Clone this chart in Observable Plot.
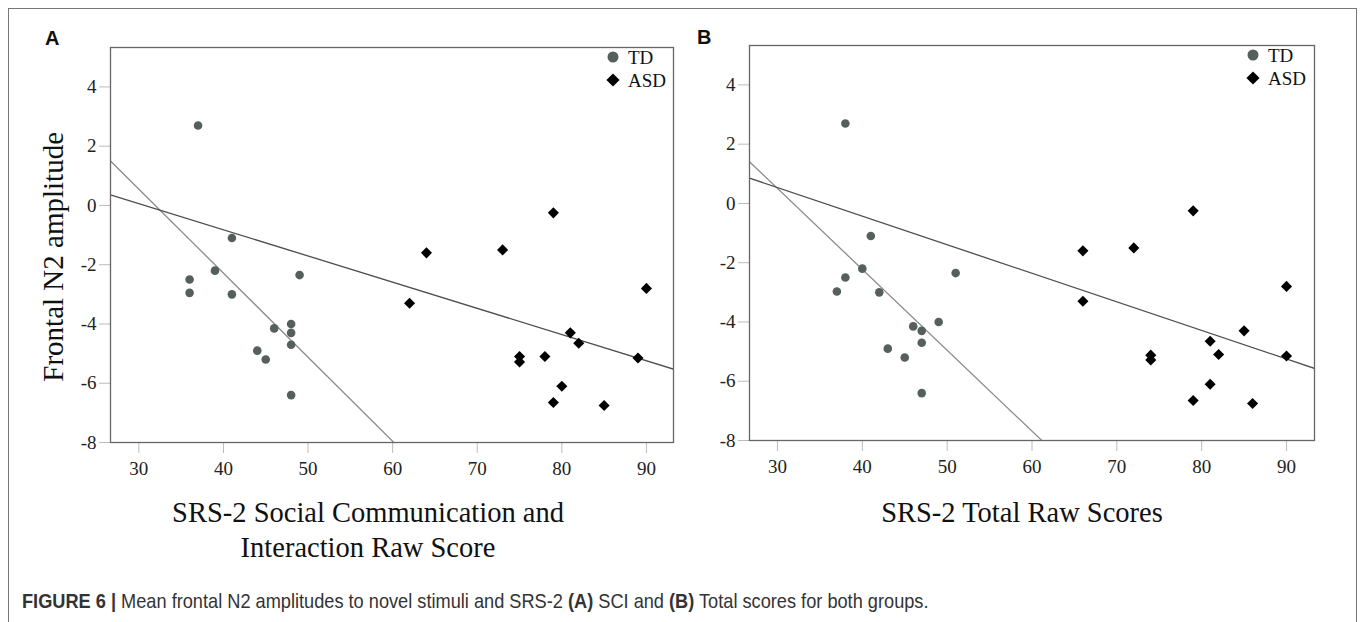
<!DOCTYPE html>
<html><head><meta charset="utf-8">
<script src="https://cdn.jsdelivr.net/npm/d3@7"></script>
<script src="https://cdn.jsdelivr.net/npm/@observablehq/plot@0.6"></script>
<style>
body{margin:0;background:#fff;}
#fig{position:relative;width:1360px;height:622px;overflow:hidden;background:#fff;}
#frame{position:absolute;left:8px;top:8px;width:1347px;height:700px;border:1.5px solid #777;}
.panel{position:absolute;top:0;}
#overlay{position:absolute;left:0;top:0;}
</style></head><body>
<div id="fig"><div id="frame"></div><div id="pa" class="panel" style="left:0px"></div><div id="pb" class="panel" style="left:680px"></div><svg id="overlay" width="1360" height="622"></svg></div>
<script>
// ---- data ----
const groups = ["TD", "ASD"];
const yTicks = [4, 2, 0, -2, -4, -6, -8];
const xTicks = [30, 40, 50, 60, 70, 80, 90];
// Panel A: SRS-2 Social Communication and Interaction raw score
const tdSciX  = [37, 41, 39, 36, 36, 41, 49, 46, 48, 48, 48, 44, 45, 48];
const tdSciY  = [2.7, -1.1, -2.2, -2.5, -2.95, -3.0, -2.35, -4.15, -4.0, -4.3, -4.7, -4.9, -5.2, -6.4];
const asdSciX = [79, 64, 73, 62, 90, 81, 82, 75, 75, 78, 89, 80, 79, 85];
const asdSciY = [-0.25, -1.6, -1.5, -3.3, -2.8, -4.3, -4.65, -5.1, -5.28, -5.1, -5.15, -6.1, -6.65, -6.75];
// Panel B: SRS-2 Total raw scores
const tdTotX  = [38, 41, 40, 38, 37, 42, 51, 49, 46, 47, 47, 43, 45, 47];
const tdTotY  = [2.7, -1.1, -2.2, -2.5, -2.97, -3.0, -2.35, -4.0, -4.15, -4.3, -4.7, -4.9, -5.2, -6.4];
const asdTotX = [79, 66, 72, 66, 90, 85, 81, 82, 74, 74, 90, 81, 79, 86];
const asdTotY = [-0.25, -1.6, -1.5, -3.3, -2.8, -4.3, -4.65, -5.1, -5.12, -5.28, -5.15, -6.1, -6.65, -6.75];

const serif = "'Liberation Serif','Times New Roman',serif";
const tdColor = "#56605b", asdColor = "#000";

function fit(xs, ys) {
  const mx = d3.mean(xs), my = d3.mean(ys);
  let sxy = 0, sxx = 0;
  xs.forEach((x, i) => { sxy += (x - mx) * (ys[i] - my); sxx += (x - mx) ** 2; });
  const b = sxy / sxx;
  return x => my + b * (x - mx);
}
const pts = (xs, ys) => xs.map((x, i) => ({x, y: ys[i]}));

function panel({tdX, tdY, asdX, asdY, xDomain, width, height, mL, mR, mT, mB}) {
  const ftd = fit(tdX, tdY), fasd = fit(asdX, asdY);
  const tdLine = xDomain.map(x => ({x, y: ftd(x)}));
  const asdLine = xDomain.map(x => ({x, y: fasd(x)}));
  const svg = Plot.plot({
    width, height, marginLeft: mL, marginRight: mR, marginTop: mT, marginBottom: mB,
    x: {domain: xDomain},
    y: {domain: [-8, 5.33]},
    style: {fontFamily: serif, fontSize: "19px", color: "#222", background: "transparent", overflow: "visible"},
    marks: [
      Plot.axisY(yTicks, {tickSize: 11, tickPadding: 3, stroke: "#bbb", fill: "#222", tickFormat: d => `${d}`, label: null}),
      Plot.axisX(xTicks, {tickSize: 11, tickPadding: 8, stroke: "#bbb", fill: "#222", tickFormat: d => `${d}`, label: null}),
      Plot.line(tdLine, {x: "x", y: "y", stroke: "#8c8c8c", strokeWidth: 1.3, clip: true}),
      Plot.line(asdLine, {x: "x", y: "y", stroke: "#4d4d4d", strokeWidth: 1.3, clip: true}),
      Plot.dot(pts(tdX, tdY), {x: "x", y: "y", r: 4.3, fill: tdColor, symbol: "circle"}),
      Plot.dot(pts(asdX, asdY), {x: "x", y: "y", r: 5, fill: asdColor, symbol: "diamond2"}),
      Plot.frame({stroke: "#666", strokeWidth: 1.3})
    ]
  });
  d3.select(svg).selectAll("text").style("font-family", serif).style("font-size", "19px");
  d3.select(svg).selectAll("g[aria-label]").filter(function() {
    return /tick label/.test(this.getAttribute("aria-label"));
  }).style("font-family", serif).style("font-size", "19px");
  return svg;
}

document.getElementById("pa").append(panel({
  tdX: tdSciX, tdY: tdSciY, asdX: asdSciX, asdY: asdSciY,
  xDomain: [26.65, 93.2], width: 690, height: 500, mL: 110, mR: 17, mT: 47, mB: 58
}));
document.getElementById("pb").append(panel({
  tdX: tdTotX, tdY: tdTotY, asdX: asdTotX, asdY: asdTotY,
  xDomain: [26.7, 93.3], width: 680, height: 500, mL: 69, mR: 46, mT: 45, mB: 60
}));

// ---- overlay texts ----
const ov = d3.select("#overlay");
function txt(x, y, s, o = {}) {
  return ov.append("text").attr("x", x).attr("y", y).text(s)
    .attr("font-family", o.family || serif).attr("font-size", o.size || 19)
    .attr("font-weight", o.weight || "normal").attr("fill", o.fill || "#111")
    .attr("text-anchor", o.anchor || "start");
}
// panel letters
txt(45, 45, "A", {family: "'Liberation Sans',Arial,sans-serif", size: 20, weight: "bold"});
txt(697, 44, "B", {family: "'Liberation Sans',Arial,sans-serif", size: 20, weight: "bold"});
// y title
ov.append("text").attr("transform", "translate(63,132) rotate(-90)").attr("text-anchor", "end")
  .attr("font-family", serif).attr("font-size", 29).attr("fill", "#111").text("Frontal N2 amplitude");
// x titles
txt(368, 522, "SRS-2 Social Communication and", {size: 28.5, anchor: "middle"});
txt(368, 557, "Interaction Raw Score", {size: 28.5, anchor: "middle"});
txt(1022, 522, "SRS-2 Total Raw Scores", {size: 28.5, anchor: "middle"});
// legends
function legend(x, y0) {
  const sym = d3.symbol();
  groups.forEach((g, i) => {
    const y = y0 + i * 23;
    ov.append("path").attr("transform", `translate(${x},${y})`)
      .attr("d", sym.type(i === 0 ? d3.symbolCircle : d3.symbolDiamond2).size(i === 0 ? 95 : 110)())
      .attr("fill", i === 0 ? tdColor : asdColor);
    txt(x + 15, y + 6.5, g, {size: 19});
  });
}
legend(613, 57);
legend(1253, 55);
// caption (condensed sans, scaled horizontally)
const cap = ov.append("text").attr("x", 0).attr("y", 0)
  .attr("transform", "translate(22,608) scale(0.91,1)")
  .attr("font-family", "'Liberation Sans Narrow','Liberation Sans',Arial,sans-serif")
  .attr("font-size", 20).attr("fill", "#333");
cap.append("tspan").attr("font-weight", "bold").text("FIGURE 6 | ");
cap.append("tspan").text("Mean frontal N2 amplitudes to novel stimuli and SRS-2 ");
cap.append("tspan").attr("font-weight", "bold").text("(A)");
cap.append("tspan").text(" SCI and ");
cap.append("tspan").attr("font-weight", "bold").text("(B)");
cap.append("tspan").text(" Total scores for both groups.");
</script>
</body></html>
